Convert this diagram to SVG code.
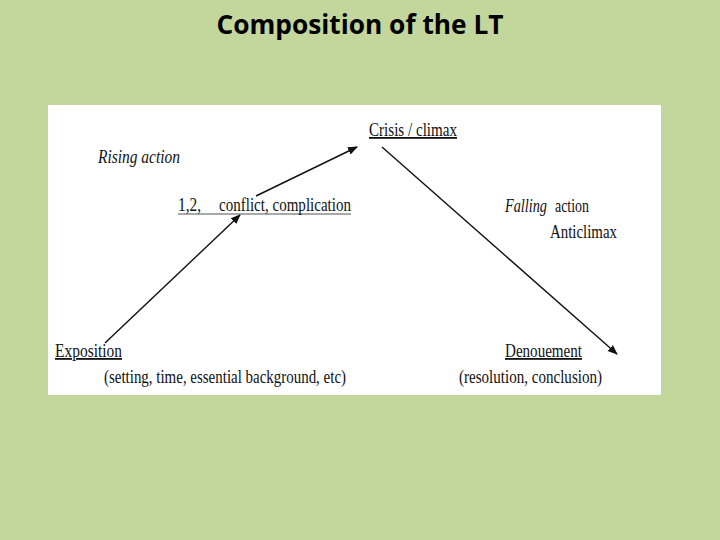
<svg xmlns="http://www.w3.org/2000/svg" width="720" height="540" viewBox="0 0 720 540">
<defs>
<marker id="ah" viewBox="0 0 10 10" refX="9" refY="5" markerWidth="10" markerHeight="10" markerUnits="userSpaceOnUse" orient="auto">
<path d="M0,1 L10,5 L0,9 Z" fill="#111"/>
</marker>
<style>
.t{font-family:"Liberation Serif","Times New Roman",serif;font-size:18px;fill:#111}
.i{font-style:italic}
.u{text-decoration:underline}
.c{stroke:#111;stroke-width:1.4;fill:none}
</style>
</defs>
<rect width="720" height="540" fill="#C3D69B"/>
<text x="360" y="34" text-anchor="middle" font-family="'Open Sans','Liberation Sans',sans-serif" font-weight="bold" font-size="26" fill="#000" textLength="287" lengthAdjust="spacingAndGlyphs">Composition of the LT</text>
<rect x="48" y="105" width="613" height="290" fill="#fff"/>
<g id="connectors">
<line class="c" x1="105" y1="343" x2="240" y2="215" marker-end="url(#ah)"/>
<line class="c" x1="256" y1="196" x2="357" y2="147" marker-end="url(#ah)"/>
<line class="c" x1="382" y1="147" x2="617" y2="354" marker-end="url(#ah)"/>
<line x1="178" y1="214" x2="351" y2="214" stroke="#555" stroke-width="1.2"/>
</g>
<g id="rising">
<text class="t i" x="98" y="163" textLength="82" lengthAdjust="spacingAndGlyphs">Rising action</text>
</g>
<g id="conflict">
<text class="t" x="178" y="211" textLength="23" lengthAdjust="spacingAndGlyphs">1,2,</text>
<text class="t" x="219" y="211" textLength="132" lengthAdjust="spacingAndGlyphs">conflict, complication</text>
</g>
<g id="crisis">
<text class="t u" x="369" y="136" textLength="88" lengthAdjust="spacingAndGlyphs">Crisis / climax</text>
</g>
<g id="falling">
<text class="t i" x="505" y="212" textLength="42" lengthAdjust="spacingAndGlyphs">Falling</text>
<text class="t" x="555" y="212" textLength="34" lengthAdjust="spacingAndGlyphs">action</text>
<text class="t" x="550" y="238" textLength="67" lengthAdjust="spacingAndGlyphs">Anticlimax</text>
</g>
<g id="exposition">
<text class="t u" x="55" y="357" textLength="67" lengthAdjust="spacingAndGlyphs">Exposition</text>
<text class="t" x="104" y="383" textLength="242" lengthAdjust="spacingAndGlyphs">(setting, time, essential background, etc)</text>
</g>
<g id="denouement">
<text class="t u" x="505" y="357" textLength="77" lengthAdjust="spacingAndGlyphs">Denouement</text>
<text class="t" x="459" y="383" textLength="143" lengthAdjust="spacingAndGlyphs">(resolution, conclusion)</text>
</g>
</svg>
